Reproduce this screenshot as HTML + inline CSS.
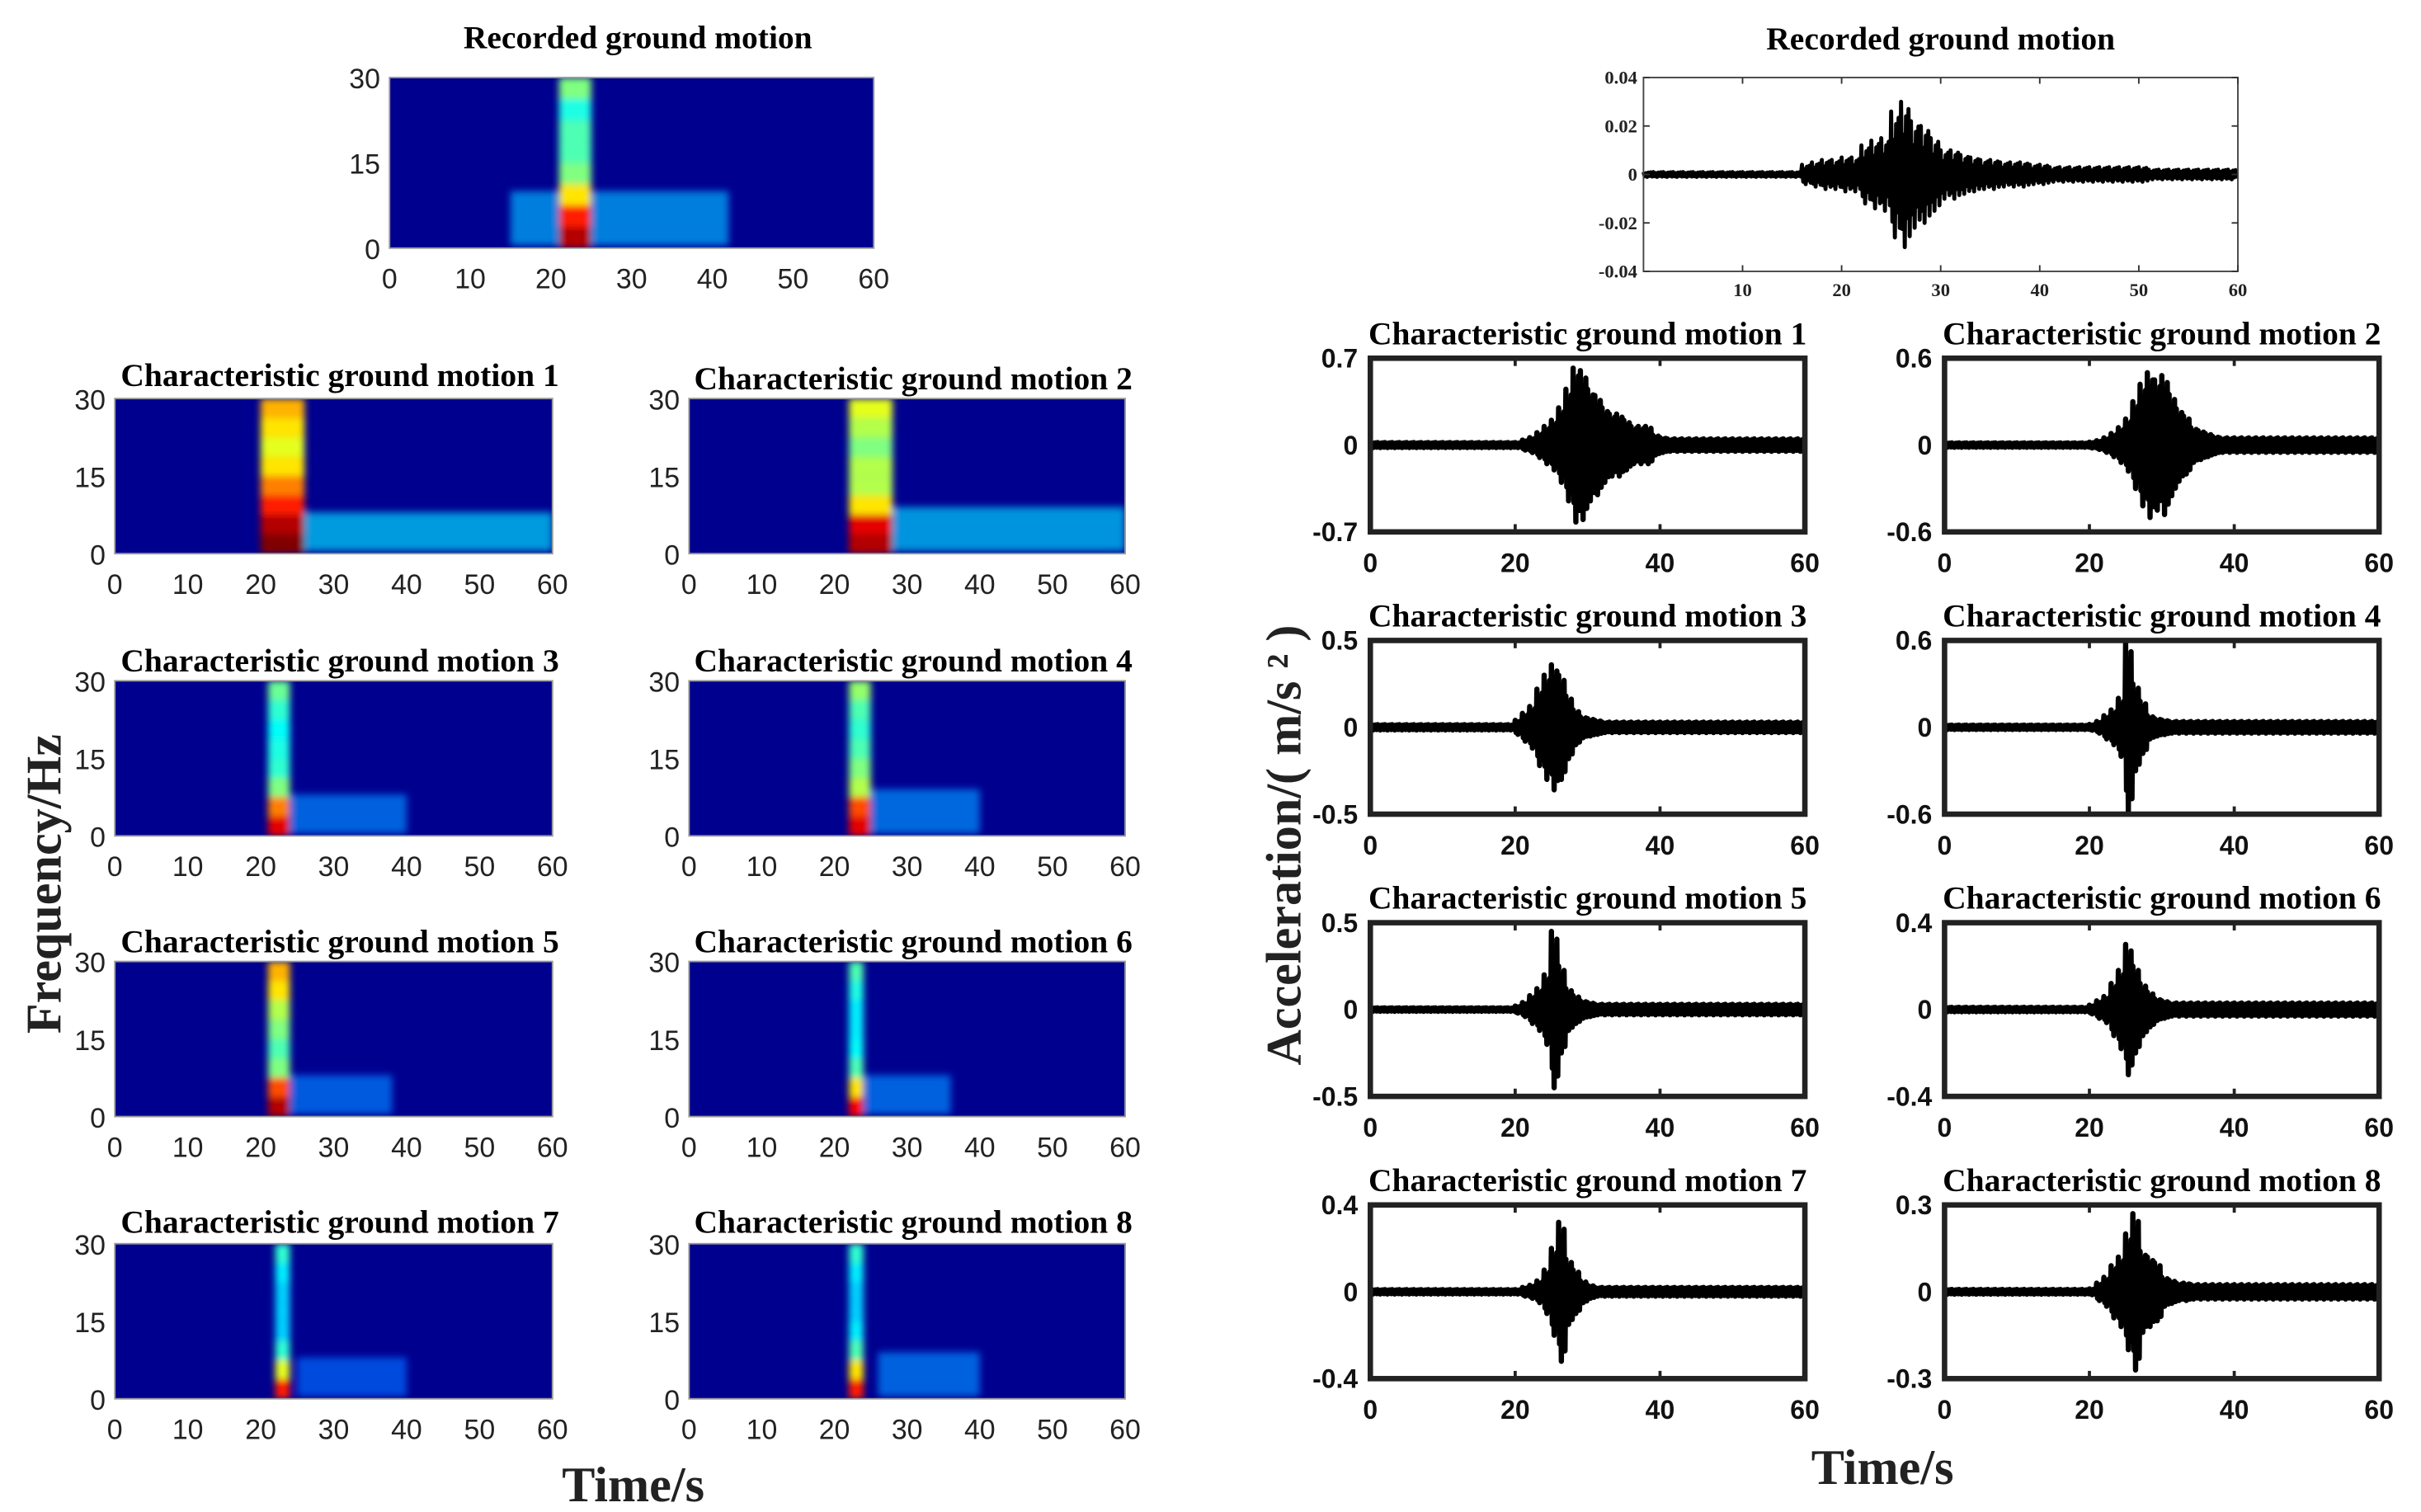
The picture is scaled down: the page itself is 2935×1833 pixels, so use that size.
<!DOCTYPE html>
<html><head><meta charset="utf-8"><style>
html,body{margin:0;padding:0;background:#fff;}
svg{display:block;}
.tt{font-family:"Liberation Serif",serif;font-weight:bold;font-size:21px;fill:#000;}
.tl{font-family:"Liberation Sans",sans-serif;font-size:18px;fill:#222;}
.tr{font-family:"Liberation Sans",sans-serif;font-weight:bold;font-size:17px;fill:#111;}
.ts{font-family:"Liberation Serif",serif;font-weight:bold;font-size:12px;fill:#222;}
.ax{font-family:"Liberation Serif",serif;font-weight:bold;font-size:32px;fill:#222;}
</style></head><body>
<svg id="fig" width="2935" height="1833" viewBox="0 0 1560 975" preserveAspectRatio="none" xmlns="http://www.w3.org/2000/svg">
<defs><filter id="bl" x="-10%" y="-10%" width="120%" height="120%"><feGaussianBlur stdDeviation="2.2"/></filter></defs>
<g id="left"></g>
<g id="right"></g>
<text class="ax" transform="translate(39,570) rotate(-90)" text-anchor="middle">Frequency/Hz</text>
<text class="ax" x="408" y="968" text-anchor="middle">Time/s</text>
<text class="ax" transform="translate(838,545) rotate(-90)" text-anchor="middle">Acceleration/( m/s ² )</text>
<text class="ax" x="1213" y="957" text-anchor="middle">Time/s</text>
</svg>
<script>
// ---------- Spectrogram data ----------
const specTitles = ["Recorded ground motion","Characteristic ground motion 1","Characteristic ground motion 2","Characteristic ground motion 3","Characteristic ground motion 4","Characteristic ground motion 5","Characteristic ground motion 6","Characteristic ground motion 7","Characteristic ground motion 8"];
const specXTicks = [0,10,20,30,40,50,60];
const specYTicks = [0,15,30];
// burst column [t0,t1]
const specCol = [[21,25],[20,26],[22,28],[21,24],[22,25],[21,24],[22,24],[22,24],[22,24]];
// column intensity per 3.75 Hz bin (bottom to top)
const specColProfile = [
 [0.95,0.85,0.65,0.5,0.45,0.45,0.4,0.5],
 [1.0,0.95,0.85,0.75,0.65,0.6,0.65,0.7],
 [0.95,0.9,0.65,0.55,0.55,0.5,0.55,0.6],
 [0.9,0.75,0.5,0.42,0.4,0.38,0.42,0.48],
 [0.9,0.8,0.55,0.5,0.45,0.42,0.45,0.52],
 [0.95,0.8,0.5,0.45,0.5,0.55,0.65,0.7],
 [0.88,0.65,0.45,0.38,0.36,0.36,0.4,0.45],
 [0.85,0.6,0.42,0.33,0.33,0.33,0.36,0.42],
 [0.85,0.65,0.45,0.36,0.33,0.33,0.36,0.42]];
// tail [t0,t1,fmax,intensity]
const specTail = [[15,42,10,0.3],[26,60,8,0.34],[28,60,9,0.33],[24,40,8,0.26],[25,40,9,0.27],[24,38,8,0.25],[24,36,8,0.26],[25,40,8,0.23],[26,40,9,0.26]];

// ---------- Acceleration data (1-s envelope amplitudes) ----------
const accTitles = specTitles;
const accYMax = [0.04,0.7,0.6,0.5,0.6,0.5,0.4,0.4,0.3];
const accEnv = [
 [0.001,0.001,0.001,0.001,0.001,0.001,0.001,0.001,0.001,0.001,0.001,0.001,0.001,0.001,0.001,0.001,0.004,0.005,0.006,0.006,0.007,0.007,0.012,0.014,0.015,0.026,0.03,0.022,0.02,0.015,0.01,0.01,0.008,0.007,0.006,0.006,0.005,0.005,0.005,0.004,0.004,0.003,0.003,0.003,0.003,0.003,0.003,0.003,0.003,0.003,0.003,0.002,0.002,0.002,0.002,0.002,0.002,0.002,0.002,0.002],
 [0.02,0.02,0.02,0.02,0.02,0.02,0.02,0.02,0.02,0.02,0.02,0.02,0.02,0.02,0.02,0.02,0.02,0.02,0.02,0.02,0.02,0.04,0.06,0.1,0.15,0.2,0.3,0.45,0.62,0.6,0.45,0.4,0.3,0.25,0.25,0.2,0.15,0.15,0.15,0.08,0.06,0.05,0.05,0.05,0.05,0.05,0.05,0.05,0.05,0.05,0.05,0.05,0.05,0.05,0.05,0.05,0.05,0.05,0.05,0.05],
 [0.015,0.015,0.015,0.015,0.015,0.015,0.015,0.015,0.015,0.015,0.015,0.015,0.015,0.015,0.015,0.015,0.015,0.015,0.015,0.015,0.02,0.03,0.05,0.08,0.12,0.18,0.3,0.42,0.5,0.45,0.48,0.35,0.25,0.2,0.12,0.1,0.08,0.06,0.05,0.05,0.05,0.05,0.05,0.05,0.05,0.05,0.05,0.05,0.05,0.05,0.05,0.05,0.05,0.05,0.05,0.05,0.05,0.05,0.05,0.05],
 [0.015,0.015,0.015,0.015,0.015,0.015,0.015,0.015,0.015,0.015,0.015,0.015,0.015,0.015,0.015,0.015,0.015,0.015,0.015,0.015,0.04,0.08,0.12,0.22,0.3,0.36,0.3,0.18,0.1,0.06,0.05,0.04,0.03,0.03,0.03,0.03,0.03,0.03,0.03,0.03,0.03,0.03,0.03,0.03,0.03,0.03,0.03,0.03,0.03,0.03,0.03,0.03,0.03,0.03,0.03,0.03,0.03,0.03,0.03,0.03],
 [0.015,0.015,0.015,0.015,0.015,0.015,0.015,0.015,0.015,0.015,0.015,0.015,0.015,0.015,0.015,0.015,0.015,0.015,0.015,0.015,0.02,0.04,0.08,0.12,0.2,0.58,0.3,0.18,0.08,0.06,0.05,0.04,0.04,0.04,0.04,0.04,0.04,0.04,0.04,0.04,0.04,0.04,0.04,0.04,0.04,0.04,0.04,0.04,0.04,0.04,0.04,0.04,0.04,0.04,0.04,0.04,0.04,0.04,0.04,0.04],
 [0.01,0.01,0.01,0.01,0.01,0.01,0.01,0.01,0.01,0.01,0.01,0.01,0.01,0.01,0.01,0.01,0.01,0.01,0.01,0.01,0.02,0.04,0.08,0.12,0.2,0.45,0.25,0.12,0.08,0.05,0.04,0.03,0.03,0.03,0.03,0.03,0.03,0.03,0.03,0.03,0.03,0.03,0.03,0.03,0.03,0.03,0.03,0.03,0.03,0.03,0.03,0.03,0.03,0.03,0.03,0.03,0.03,0.03,0.03,0.03],
 [0.01,0.01,0.01,0.01,0.01,0.01,0.01,0.01,0.01,0.01,0.01,0.01,0.01,0.01,0.01,0.01,0.01,0.01,0.01,0.01,0.02,0.04,0.06,0.12,0.18,0.3,0.2,0.12,0.08,0.05,0.04,0.03,0.03,0.03,0.03,0.03,0.03,0.03,0.03,0.03,0.03,0.03,0.03,0.03,0.03,0.03,0.03,0.03,0.03,0.03,0.03,0.03,0.03,0.03,0.03,0.03,0.03,0.03,0.03,0.03],
 [0.01,0.01,0.01,0.01,0.01,0.01,0.01,0.01,0.01,0.01,0.01,0.01,0.01,0.01,0.01,0.01,0.01,0.01,0.01,0.01,0.01,0.02,0.03,0.05,0.1,0.2,0.32,0.15,0.1,0.05,0.03,0.02,0.02,0.02,0.02,0.02,0.02,0.02,0.02,0.02,0.02,0.02,0.02,0.02,0.02,0.02,0.02,0.02,0.02,0.02,0.02,0.02,0.02,0.02,0.02,0.02,0.02,0.02,0.02,0.02],
 [0.008,0.008,0.008,0.008,0.008,0.008,0.008,0.008,0.008,0.008,0.008,0.008,0.008,0.008,0.008,0.008,0.008,0.008,0.008,0.008,0.01,0.03,0.05,0.09,0.12,0.2,0.27,0.14,0.12,0.1,0.05,0.04,0.03,0.03,0.025,0.025,0.025,0.025,0.025,0.025,0.025,0.025,0.025,0.025,0.025,0.025,0.025,0.025,0.025,0.025,0.025,0.025,0.025,0.025,0.025,0.025,0.025,0.025,0.025,0.025]];
const accXTicksSmall = [0,20,40,60];
const accXTicksRec = [10,20,30,40,50,60];

const NS = "http://www.w3.org/2000/svg";
function mk(tag, attrs, parent){ const e=document.createElementNS(NS,tag); for(const k in attrs) e.setAttribute(k,attrs[k]); parent.appendChild(e); return e; }
function jet(v){ v=Math.max(0,Math.min(1,v));
  const r=Math.max(0,Math.min(1,1.5-Math.abs(4*v-3))), g=Math.max(0,Math.min(1,1.5-Math.abs(4*v-2))), b=Math.max(0,Math.min(1,1.5-Math.abs(4*v-1)));
  return `rgb(${Math.round(r*255)},${Math.round(g*255)},${Math.round(b*255)})`; }

const specBoxes = [[251,50,563,160,31],[74,257,356,357,249],[444,257,725,357,251],[74,439,356,539,433],[444,439,725,539,433],[74,620,356,720,614],[444,620,725,720,614],[74,802,356,902,795],[444,802,725,902,795]];
const left = document.getElementById('left');
specBoxes.forEach((bx,i)=>{
  const [x0,y0,x1,y1,ty]=bx;
  const sx=t=>x0+(x1-x0)*t/60, sy=f=>y1-(y1-y0)*f/30;
  const g=mk('g',{},left);
  
  
  const cid='c'+i;
  const cp=mk('clipPath',{id:cid},g); mk('rect',{x:x0,y:y0,width:x1-x0,height:y1-y0},cp);
  const bg=mk('rect',{x:x0,y:y0,width:x1-x0,height:y1-y0,fill:'#00008f'},g);
  
  
  const hg=mk('g',{'clip-path':`url(#${cid})`},g);
  const fg=mk('g',{filter:'url(#bl)'},hg);
  const tl=specTail[i];
  const tr=mk('rect',{x:sx(tl[0]),y:sy(tl[2]),width:sx(tl[1])-sx(tl[0]),height:sy(0.5)-sy(tl[2]),fill:jet(tl[3]),opacity:0.7},fg);
  
  
  const c=specCol[i];
  specColProfile[i].forEach((v,k)=>{
    const r=mk('rect',{x:sx(c[0]),y:sy((k+1)*3.75),width:sx(c[1])-sx(c[0]),height:sy(k*3.75)-sy((k+1)*3.75),fill:jet(v)},fg);
    
    
  });
  mk('rect',{x:x0,y:y0,width:x1-x0,height:y1-y0,fill:'none',stroke:'#999',"stroke-width":1},g);
  const t=mk('text',{x:(x0+x1)/2+4,y:ty,'text-anchor':'middle',class:'tt'},g); t.textContent=specTitles[i];
  
  
  specXTicks.forEach(v=>{ const e=mk('text',{x:sx(v),y:y1+26,'text-anchor':'middle',class:'tl'},g); e.textContent=v;
      });
  specYTicks.forEach(v=>{ const e=mk('text',{x:x0-6,y:sy(v)+7,'text-anchor':'end',class:'tl'},g); e.textContent=v;
      });
});

const accBoxes = [[1059,50,1442,175,32],[883,231,1163,343,222],[1253,231,1533,343,222],[883,413,1163,525,404],[1253,413,1533,525,404],[883,595,1163,707,586],[1253,595,1533,707,586],[883,777,1163,889,768],[1253,777,1533,889,768]];
const right=document.getElementById('right');
const pat=[1,-0.75,0.55,-1,0.8,-0.6,0.9,-0.85];
accBoxes.forEach((bx,i)=>{
  const [x0,y0,x1,y1,ty]=bx; const ym=accYMax[i];
  const sx=t=>x0+(x1-x0)*t/60, sy=a=>(y0+y1)/2-(y1-y0)/2*a/ym;
  const g=mk('g',{},right);
  
  
  let d='';
  accEnv[i].forEach((v,k)=>{ pat.forEach((p,j)=>{ const t=k+j/pat.length; d+=(d?'L':'M')+sx(t).toFixed(2)+','+sy(v*p).toFixed(2); }); });
  const ln=mk('path',{d:d,fill:'none',stroke:'#000','stroke-width':i?3.4:2.6,'stroke-linejoin':'round'},g);
  
  
  const sw=i?3.5:1;
  mk('rect',{x:x0,y:y0,width:x1-x0,height:y1-y0,fill:'none',stroke:i?'#222':'#444','stroke-width':sw},g);
  const t=mk('text',{x:(x0+x1)/2,y:ty,'text-anchor':'middle',class:'tt'},g); t.textContent=accTitles[i];
  
  
  if(i===0){
    [0.04,0.02,0,-0.02,-0.04].forEach(v=>{ const e=mk('text',{x:x0-4,y:sy(v)+4,'text-anchor':'end',class:'ts'},g); e.textContent=v;
       
      mk('line',{x1:x0,x2:x0+4,y1:sy(v),y2:sy(v),stroke:'#333'},g); mk('line',{x1:x1,x2:x1-4,y1:sy(v),y2:sy(v),stroke:'#333'},g); });
    accXTicksRec.forEach(v=>{ const e=mk('text',{x:sx(v),y:y1+16,'text-anchor':'middle',class:'ts'},g); e.textContent=v;
       
      mk('line',{x1:sx(v),x2:sx(v),y1:y1,y2:y1-4,stroke:'#333'},g); mk('line',{x1:sx(v),x2:sx(v),y1:y0,y2:y0+4,stroke:'#333'},g); });
  } else {
    [ym,0,-ym].forEach(v=>{ const e=mk('text',{x:x0-8,y:sy(v)+6,'text-anchor':'end',class:'tr'},g); e.textContent=v;
        });
    accXTicksSmall.forEach(v=>{ const e=mk('text',{x:sx(v),y:y1+26,'text-anchor':'middle',class:'tr'},g); e.textContent=v;
       
      mk('line',{x1:sx(v),x2:sx(v),y1:y1,y2:y1-5,stroke:'#222','stroke-width':2},g); mk('line',{x1:sx(v),x2:sx(v),y1:y0,y2:y0+5,stroke:'#222','stroke-width':2},g); });
  }
});
</script>
</body></html>
